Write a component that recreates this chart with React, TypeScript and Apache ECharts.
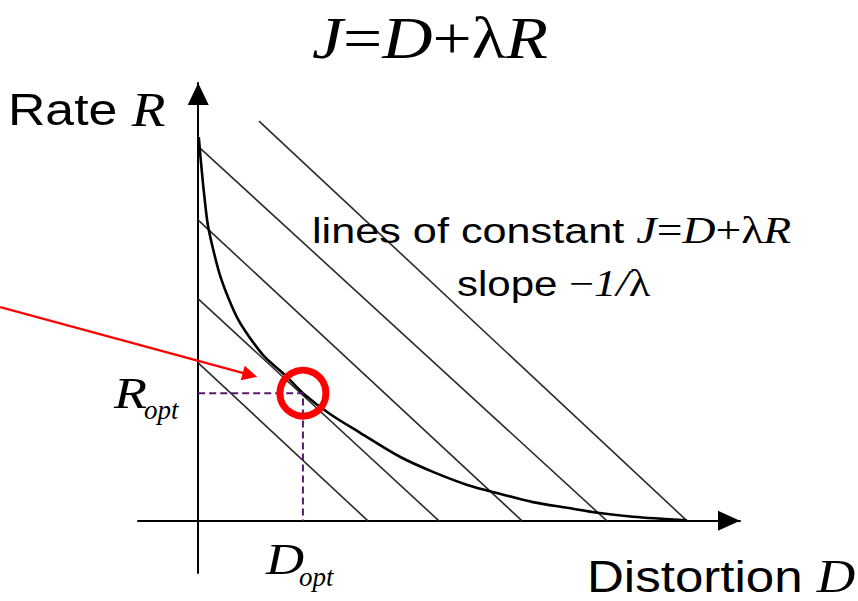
import { useEffect, useRef } from 'react';
import * as echarts from 'echarts';

// Operational rate-distortion curve: distortion D against rate R
const curveD = [0.01, 0.05, 0.10, 0.16, 0.25, 0.36, 0.50, 0.66, 0.86, 1.11, 1.44, 1.74, 2.19, 2.69, 3.35, 3.90, 4.47, 5.01, 5.56, 6.13, 6.67, 7.22, 8.12];
const curveR = [7.36, 6.83, 6.25, 5.68, 5.20, 4.72, 4.28, 3.87, 3.51, 3.14, 2.80, 2.45, 2.05, 1.69, 1.23, 0.94, 0.69, 0.52, 0.36, 0.25, 0.15, 0.08, 0.01];

// Lines of constant cost J = D + λR (start and end of each segment)
const costLineStartD = [0, 0, 0, 0.03, 1.01];
const costLineStartR = [3.03, 4.26, 5.77, 7.15, 7.67];
const costLineEndD = [2.82, 4.0, 5.38, 6.79, 8.12];
const costLineEndR = [0, 0, 0, 0, 0];

// Optimal operating point (D_opt, R_opt)
const optimumD = 1.74;
const optimumR = 2.45;

// Pointer arrow aimed at the optimum
const pointerD = [-3.29, 0.86];
const pointerR = [4.1, 2.8];

// Axis extents
const rangeD = [-1, 9];
const rangeR = [-1, 8.4];

const SANS = '"Liberation Sans", Arial, sans-serif';
const SERIF = '"Liberation Serif", "Times New Roman", serif';

function richLabel(
  x: number,
  y: number,
  text: string,
  rich: Record<string, any>,
  scaleX: number,
  align: 'left' | 'center' = 'left'
) {
  return {
    type: 'text',
    x,
    y,
    scaleX,
    z: 20,
    silent: true,
    style: { text, rich, align, verticalAlign: 'middle', fill: '#000' },
  };
}

function serif(size: number, italic: boolean, lineHeight?: number) {
  return {
    fontFamily: SERIF,
    fontSize: size,
    fontStyle: italic ? 'italic' : 'normal',
    fill: '#000',
    ...(lineHeight ? { lineHeight } : {}),
  };
}
function sans(size: number, lineHeight?: number) {
  return { fontFamily: SANS, fontSize: size, fill: '#000', ...(lineHeight ? { lineHeight } : {}) };
}

export default function App() {
  const ref = useRef<HTMLDivElement>(null);

  useEffect(() => {
    const el = ref.current;
    if (!el) return;
    const chart = echarts.init(el, null, { renderer: 'svg' });

    const axisLineStyle = { color: '#000', width: 2 };
    const hidden = { show: false };

    const costLines = costLineStartD.map((d0, i) => ({
      type: 'line',
      data: [
        [d0, costLineStartR[i]],
        [costLineEndD[i], costLineEndR[i]],
      ],
      symbol: 'none',
      silent: true,
      z: 2,
      lineStyle: { color: '#2a2a2a', width: 1.6 },
    }));

    chart.setOption({
      animation: false,
      grid: { left: 138, right: 118, top: 83, bottom: 28 },
      xAxis: {
        type: 'value',
        min: rangeD[0],
        max: rangeD[1],
        axisLine: {
          onZero: true,
          symbol: ['none', 'triangle'],
          symbolSize: [20, 22],
          symbolOffset: [0, -11],
          lineStyle: axisLineStyle,
        },
        axisTick: hidden,
        axisLabel: hidden,
        splitLine: hidden,
      },
      yAxis: {
        type: 'value',
        min: rangeR[0],
        max: rangeR[1],
        axisLine: {
          onZero: true,
          symbol: ['none', 'triangle'],
          symbolSize: [21, 22],
          symbolOffset: [0, -11],
          lineStyle: axisLineStyle,
        },
        axisTick: hidden,
        axisLabel: hidden,
        splitLine: hidden,
      },
      series: [
        ...costLines,
        {
          type: 'line',
          data: curveD.map((d, i) => [d, curveR[i]]),
          smooth: 0.3,
          symbol: 'none',
          silent: true,
          z: 3,
          lineStyle: { color: '#000', width: 2.6 },
        },
        {
          type: 'line',
          data: [
            [0, optimumR],
            [optimumD, optimumR],
            [optimumD, 0],
          ],
          symbol: 'none',
          silent: true,
          z: 3,
          lineStyle: { color: '#5a1a70', width: 2, type: [7, 4] },
        },
        {
          type: 'scatter',
          data: [[optimumD, optimumR]],
          symbol: 'circle',
          symbolSize: 46,
          silent: true,
          z: 5,
          itemStyle: { color: 'rgba(0,0,0,0)', borderColor: '#ff0000', borderWidth: 7, opacity: 1 },
        },
        {
          type: 'lines',
          coordinateSystem: 'cartesian2d',
          clip: false,
          silent: true,
          z: 6,
          symbol: ['none', 'triangle'],
          symbolSize: 15,
          lineStyle: { color: '#ff0000', width: 2.2, opacity: 1, curveness: 0 },
          data: [{ coords: pointerD.map((d, i) => [d, pointerR[i]]) }],
        },
      ],
      graphic: [
        richLabel(430, 37.5, '{i|J}{u|=}{i|D}{u|+}{u|λ}{i|R}', { i: serif(60, true), u: serif(60, false) }, 1.16, 'center'),
        richLabel(8, 109.4, '{s|Rate }{i|R}', { s: sans(45), i: serif(48, true) }, 1.15),
        richLabel(587, 577, '{s|Distortion }{i|D}', { s: sans(44, 44), i: serif(46, true, 44) }, 1.16),
        richLabel(
          312,
          231,
          '{s|lines of constant }{i|J}{u|=}{i|D}{u|+}{u|λ}{i|R}',
          { s: sans(35), i: serif(37, true), u: serif(37, false) },
          1.235
        ),
        richLabel(457, 284, '{s|slope }{u|−}{i|1/}{u|λ}', { s: sans(35), i: serif(37, true), u: serif(37, false) }, 1.2),
        richLabel(114, 393, '{i|R}', { i: serif(45, true) }, 1.2),
        richLabel(144, 410, '{i|opt}', { i: serif(27, true) }, 1.0),
        richLabel(266, 560, '{i|D}', { i: serif(44, true) }, 1.2),
        richLabel(299, 577, '{i|opt}', { i: serif(27, true) }, 1.0),
      ],
    });

    return () => chart.dispose();
  }, []);

  return (
    <div
      ref={ref}
      style={{ position: 'fixed', left: 0, top: 0, width: 858, height: 601, background: '#fff' }}
    />
  );
}
